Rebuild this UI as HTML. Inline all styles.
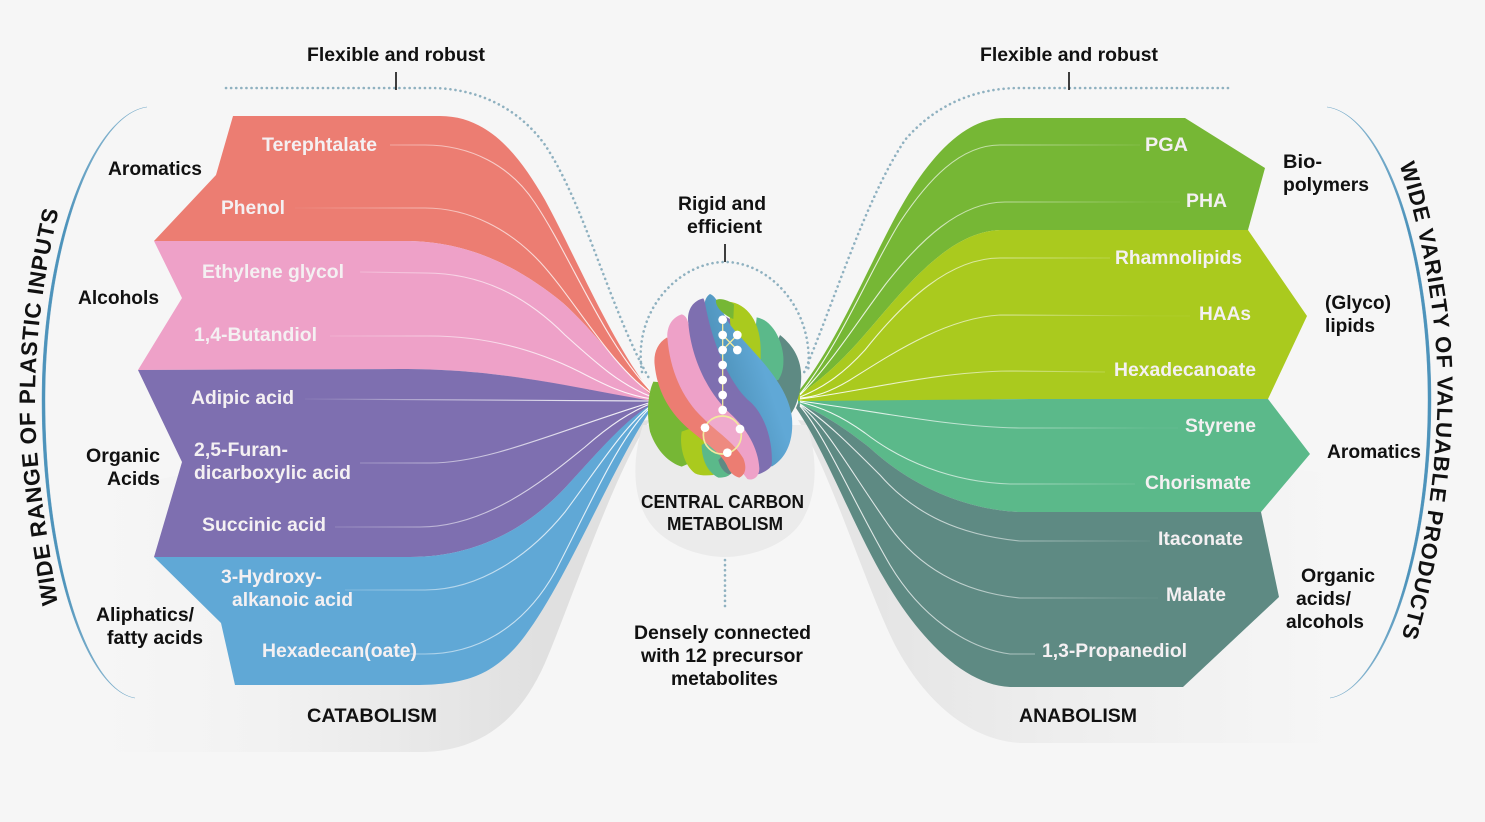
<!DOCTYPE html>
<html><head><meta charset="utf-8"><style>
html,body{margin:0;padding:0;background:#f6f6f6}
svg{display:block}
text{font-family:"Liberation Sans",sans-serif;font-weight:bold;font-size:19.5px}
.k{fill:#111}.w{fill:#f4f0f2}
</style></head><body>
<svg width="1485" height="822" viewBox="0 0 1485 822" xmlns="http://www.w3.org/2000/svg">
<defs>
<linearGradient id="sl" gradientUnits="userSpaceOnUse" x1="90" y1="0" x2="540" y2="0"><stop offset="0" stop-color="#f6f6f6"/><stop offset=".4" stop-color="#f2f2f2"/><stop offset="1" stop-color="#e0e0e0"/></linearGradient>
<linearGradient id="sr" gradientUnits="userSpaceOnUse" x1="880" y1="0" x2="1340" y2="0"><stop offset="0" stop-color="#e5e5e5"/><stop offset=".4" stop-color="#eeeeee"/><stop offset="1" stop-color="#f6f6f6"/></linearGradient>
<linearGradient id="ll" gradientUnits="userSpaceOnUse" x1="300" y1="0" x2="650" y2="0"><stop offset="0" stop-color="#fff" stop-opacity=".05"/><stop offset=".4" stop-color="#fff" stop-opacity=".5"/><stop offset="1" stop-color="#fff" stop-opacity=".95"/></linearGradient>
<linearGradient id="lr" gradientUnits="userSpaceOnUse" x1="1150" y1="0" x2="800" y2="0"><stop offset="0" stop-color="#fff" stop-opacity=".05"/><stop offset=".4" stop-color="#fff" stop-opacity=".5"/><stop offset="1" stop-color="#fff" stop-opacity=".95"/></linearGradient>
<linearGradient id="ar" gradientUnits="userSpaceOnUse" x1="0" y1="107" x2="0" y2="699"><stop offset="0" stop-color="#4d93bb" stop-opacity=".6"/><stop offset=".2" stop-color="#4d93bb"/><stop offset=".8" stop-color="#4d93bb"/><stop offset="1" stop-color="#4d93bb" stop-opacity=".6"/></linearGradient>
<linearGradient id="bb" gradientUnits="userSpaceOnUse" x1="190" y1="110" x2="310" y2="70"><stop offset="0" stop-color="#4f93bb"/><stop offset="1" stop-color="#60a8d6"/></linearGradient>
<path id="pl" d="M58,606 C48,540 35,470 35,400 C35,340 44,270 60,205"/>
<path id="pr" d="M1397,157 C1420,225 1437,310 1437.5,385 C1438,470 1422,570 1398,650"/>
</defs>
<rect width="1485" height="822" fill="#f6f6f6"/>

<!-- shadows -->
<path d="M650,420 C615,470 570,605 545,663 C520,720 480,752 420,752 L100,752 L60,500 L300,450Z" fill="url(#sl)"/>
<path d="M798,420 C830,470 865,585 895,645 C925,702 970,740 1020,743 L1400,743 L1400,480 L1100,450Z" fill="url(#sr)"/>
<path d="M643,425 C633,455 632,490 645,515 C660,545 700,557 725,557 C750,557 792,545 805,515 C818,490 817,455 807,425Z" fill="#ebebeb"/>

<!-- dotted -->
<g fill="none" stroke="#8fb1c0" stroke-width="2.6" stroke-linecap="round" stroke-dasharray="0.1 5">
<path d="M226,88 L430,88 C480,88 520,110 545,145 C585,205 610,310 650,380"/>
<path d="M1228,88 L1020,88 C975,88 935,105 905,140 C865,200 835,300 803,375"/>
<path d="M642,372 C632,310 680,262 725,262 C770,262 815,310 808,372"/>
<path d="M725,560 L725,606"/>
</g>

<!-- left bands -->
<path d="M233,116 L440,116 C490,116 520,157 545,200 C575,255 610,340 652,394 L652,398 C620,368 595,332 563,303 C520,268 470,241 405,241 L154,241 L216,175Z" fill="#ec7d72"/>
<path d="M154,241 L405,241 C470,241 520,268 563,303 C595,332 620,368 652,396 L652,402 C560,385 500,369 400,369 L138,370 L182,298Z" fill="#eea1c8"/>
<path d="M138,370 L400,369 C500,369 560,385 652,401 L652,405 C625,420 600,450 565,488 C530,525 480,557 410,557 L154,557 L182,462Z" fill="#7e6fb0"/>
<path d="M154,557 L410,557 C480,557 530,525 565,488 C600,450 625,420 652,404 L652,408 C610,470 560,598 515,648 C490,675 465,685 415,685 L235,685 L221,623Z" fill="#60a8d6"/>

<!-- right bands -->
<path d="M1005,118 L1185,118 L1265,168 L1248,230 L1000,230 C945,232 900,295 860,340 C835,368 820,380 798,396 L798,392 C840,340 875,250 905,200 C932,155 965,118 1005,118Z" fill="#76b735"/>
<path d="M1000,230 L1248,230 L1307,316 L1268,399 L1030,399 L798,402 L798,396 C820,380 835,368 860,340 C900,295 945,232 1000,230Z" fill="#aaca1e"/>
<path d="M798,401 L1030,399 L1268,399 L1310,454 L1261,512 L1020,512 C965,510 910,485 870,448 C845,428 820,412 798,403Z" fill="#5bb98a"/>
<path d="M798,403 C820,412 845,428 870,448 C910,485 965,510 1020,512 L1261,512 L1279,597 L1183,687 L1010,687 C965,685 920,640 885,580 C855,530 825,450 796,408Z" fill="#5e8a83"/>

<!-- thin lines left -->
<g fill="none" stroke="url(#ll)" stroke-width="1.1">
<path d="M390,145 L425,145 C470,145 510,165 535,203 C570,255 605,345 652,392"/>
<path d="M295,208 L425,208 C470,208 510,230 540,262 C575,300 610,365 652,394"/>
<path d="M360,272 L425,273 C480,273 525,295 565,335 C595,362 620,385 652,397"/>
<path d="M330,336 L430,336 C490,336 540,352 580,372 C605,385 625,395 652,399"/>
<path d="M305,399 L652,401"/>
<path d="M360,463 L430,463 C490,463 560,430 652,402"/>
<path d="M335,527 L420,527 C490,527 550,475 585,447 C610,425 630,412 652,403"/>
<path d="M345,590 L425,590 C480,590 530,555 565,512 C600,465 625,425 652,405"/>
<path d="M395,654 L425,654 C480,654 525,625 555,572 C590,505 620,435 652,406"/>
</g>
<!-- thin lines right -->
<g fill="none" stroke="url(#lr)" stroke-width="1.1">
<path d="M1140,145 L1000,145 C960,145 928,180 900,222 C870,270 840,345 800,394"/>
<path d="M1180,202 L1005,202 C960,202 920,240 885,285 C855,325 830,365 800,395"/>
<path d="M1110,258 L1000,258 C950,258 905,300 865,350 C845,372 825,387 800,397"/>
<path d="M1190,316 L1000,315 C945,318 890,355 850,380 C830,392 815,397 800,398"/>
<path d="M1105,372 L1010,371 C930,372 860,392 800,399"/>
<path d="M1178,428 L1020,428 C950,427 880,412 800,401"/>
<path d="M1135,484 L1010,484 C950,482 900,460 865,433 C840,415 820,407 800,402"/>
<path d="M1150,541 L1020,541 C960,535 915,515 880,475 C850,445 825,420 800,404"/>
<path d="M1158,598 L1020,598 C960,592 915,565 885,520 C850,470 825,425 800,405"/>
<path d="M1035,654 L1010,654 C965,648 920,615 890,565 C855,505 825,435 800,406"/>
</g>

<g stroke="#111" stroke-width="1.6"><path d="M396,72V90M1069,72V90M725,244V262"/></g>

<!-- arcs -->
<path d="M147,107 C90,115 42,250 42,400 C42,560 85,690 135,698 C87,690 45,560 45,400 C45,250 92,115 147,107Z" fill="url(#ar)" stroke="url(#ar)" stroke-width=".4"/>
<path d="M1327,107 C1385,115 1431,250 1431,400 C1431,560 1382,690 1330,698 C1380,690 1428,560 1428,400 C1428,250 1383,115 1327,107Z" fill="url(#ar)" stroke="url(#ar)" stroke-width=".4"/>

<!-- ball drawn in 3x crop coordinates -->
<g transform="translate(640,285) scale(.33333)">
<path d="M120,230 L250,90 L380,170 L440,340 L400,520 L280,560 L150,510 L70,350Z" fill="#7e6fb0"/>
<path d="M420,150 C470,190 490,240 482,300 C478,340 462,380 445,395 L340,340Z" fill="#5e8a83"/>
<path d="M350,97 C395,105 425,160 430,215 C432,250 425,270 415,285 L330,300Z" fill="#5bb98a"/>
<path d="M265,50 C320,55 365,110 362,205 L362,260 L280,220Z" fill="#aaca1e"/>
<path d="M40,290 C22,330 20,390 30,440 C50,500 90,535 125,545 L230,500 L150,300Z" fill="#76b735"/>
<path d="M125,440 C118,480 130,540 165,565 C180,572 200,572 220,570 L260,520 L180,420Z" fill="#aaca1e"/>
<path d="M185,480 C185,520 200,560 235,578 C250,578 262,575 268,570 L300,540 L230,450Z" fill="#5bb98a"/>
<path d="M235,525 C240,550 258,568 270,568 L295,550 L260,500Z" fill="#5e8a83"/>
<path d="M210,27 C190,40 190,70 200,100 L250,400 L395,545 C430,525 462,480 456,400 C445,290 330,195 275,125 C250,95 235,35 210,27Z" fill="url(#bb)"/>
<path d="M228,45 C240,38 265,45 282,58 L280,102 C250,90 225,65 228,45Z" fill="#76b735"/>
<path d="M190,40 C155,48 140,80 145,115 L130,200 L170,300 L260,420 L340,570 L358,567 C375,560 392,550 395,540 C400,470 375,390 330,350 C280,310 225,200 200,80 C196,60 195,48 190,40Z" fill="#7e6fb0"/>
<path d="M125,88 C95,98 80,125 82,160 L60,200 L100,320 L220,450 L322,582 C340,588 358,575 358,550 C355,490 320,430 270,385 C210,330 155,230 145,115 C142,100 135,90 125,88Z" fill="#eea1c8"/>
<path d="M80,158 C52,175 40,205 44,240 C52,320 90,385 150,435 C190,470 240,500 260,540 C270,565 285,575 298,578 C315,570 322,550 310,520 C280,470 230,440 190,400 C130,345 90,260 82,158Z" fill="#ec7d72"/>
<circle cx="247" cy="450" r="57" fill="#fff" fill-opacity=".1" stroke="#f2ea9e" stroke-width="5"/>
<path d="M248,104V375M248,150L292,195M248,195L292,150" fill="none" stroke="#f2ea9e" stroke-width="4"/>
<g fill="#fff">
<circle cx="248" cy="104" r="13"/><circle cx="248" cy="150" r="13"/><circle cx="248" cy="195" r="13"/>
<circle cx="292" cy="150" r="13"/><circle cx="292" cy="195" r="13"/>
<circle cx="248" cy="240" r="13"/><circle cx="248" cy="285" r="13"/><circle cx="248" cy="330" r="13"/><circle cx="248" cy="375" r="13"/>
<circle cx="195" cy="428" r="13"/><circle cx="300" cy="432" r="13"/><circle cx="262" cy="503" r="13"/>
</g>
</g>

<!-- band labels -->
<g class="w">
<text class="w" x="262" y="151" textLength="115" lengthAdjust="spacingAndGlyphs">Terephtalate</text>
<text class="w" x="221" y="214" textLength="64" lengthAdjust="spacingAndGlyphs">Phenol</text>
<text class="w" x="202" y="278" textLength="142" lengthAdjust="spacingAndGlyphs">Ethylene glycol</text>
<text class="w" x="194" y="341" textLength="123" lengthAdjust="spacingAndGlyphs">1,4-Butandiol</text>
<text class="w" x="191" y="404" textLength="103" lengthAdjust="spacingAndGlyphs">Adipic acid</text>
<text class="w" x="194" y="456" textLength="94" lengthAdjust="spacingAndGlyphs">2,5-Furan-</text>
<text class="w" x="194" y="479" textLength="157" lengthAdjust="spacingAndGlyphs">dicarboxylic acid</text>
<text class="w" x="202" y="531" textLength="124" lengthAdjust="spacingAndGlyphs">Succinic acid</text>
<text class="w" x="221" y="583" textLength="101" lengthAdjust="spacingAndGlyphs">3-Hydroxy-</text>
<text class="w" x="232" y="606" textLength="121" lengthAdjust="spacingAndGlyphs">alkanoic acid</text>
<text class="w" x="262" y="657" textLength="155" lengthAdjust="spacingAndGlyphs">Hexadecan(oate)</text>
<text class="w" x="1145" y="151" textLength="43" lengthAdjust="spacingAndGlyphs">PGA</text>
<text class="w" x="1186" y="207" textLength="41" lengthAdjust="spacingAndGlyphs">PHA</text>
<text class="w" x="1115" y="264" textLength="127" lengthAdjust="spacingAndGlyphs">Rhamnolipids</text>
<text class="w" x="1199" y="320" textLength="52" lengthAdjust="spacingAndGlyphs">HAAs</text>
<text class="w" x="1114" y="376" textLength="142" lengthAdjust="spacingAndGlyphs">Hexadecanoate</text>
<text class="w" x="1185" y="432" textLength="71" lengthAdjust="spacingAndGlyphs">Styrene</text>
<text class="w" x="1145" y="489" textLength="106" lengthAdjust="spacingAndGlyphs">Chorismate</text>
<text class="w" x="1158" y="545" textLength="85" lengthAdjust="spacingAndGlyphs">Itaconate</text>
<text class="w" x="1166" y="601" textLength="60" lengthAdjust="spacingAndGlyphs">Malate</text>
<text class="w" x="1042" y="657" textLength="145" lengthAdjust="spacingAndGlyphs">1,3-Propanediol</text>
</g>

<!-- black labels -->
<g class="k">
<text class="k" x="307" y="61" textLength="178" lengthAdjust="spacingAndGlyphs">Flexible and robust</text>
<text class="k" x="980" y="61" textLength="178" lengthAdjust="spacingAndGlyphs">Flexible and robust</text>
<text class="k" x="108" y="175" textLength="94" lengthAdjust="spacingAndGlyphs">Aromatics</text>
<text class="k" x="78" y="304" textLength="81" lengthAdjust="spacingAndGlyphs">Alcohols</text>
<text class="k" x="86" y="462" textLength="74" lengthAdjust="spacingAndGlyphs">Organic</text>
<text class="k" x="107" y="485" textLength="53" lengthAdjust="spacingAndGlyphs">Acids</text>
<text class="k" x="96" y="621" textLength="98" lengthAdjust="spacingAndGlyphs">Aliphatics/</text>
<text class="k" x="107" y="644" textLength="96" lengthAdjust="spacingAndGlyphs">fatty acids</text>
<text class="k" x="307" y="722" textLength="130" lengthAdjust="spacingAndGlyphs">CATABOLISM</text>
<text class="k" x="1019" y="722" textLength="118" lengthAdjust="spacingAndGlyphs">ANABOLISM</text>
<text class="k" x="678" y="210" textLength="88" lengthAdjust="spacingAndGlyphs">Rigid and</text>
<text class="k" x="687" y="233" textLength="75" lengthAdjust="spacingAndGlyphs">efficient</text>
<text class="k" x="641" y="508" textLength="163" lengthAdjust="spacingAndGlyphs" style="font-size:18px">CENTRAL CARBON</text>
<text class="k" x="667" y="530" textLength="116" lengthAdjust="spacingAndGlyphs" style="font-size:18px">METABOLISM</text>
<text class="k" x="634" y="639" textLength="177" lengthAdjust="spacingAndGlyphs">Densely connected</text>
<text class="k" x="641" y="662" textLength="162" lengthAdjust="spacingAndGlyphs">with 12 precursor</text>
<text class="k" x="671" y="685" textLength="107" lengthAdjust="spacingAndGlyphs">metabolites</text>
<text class="k" x="1283" y="168" textLength="39" lengthAdjust="spacingAndGlyphs">Bio-</text>
<text class="k" x="1283" y="191" textLength="86" lengthAdjust="spacingAndGlyphs">polymers</text>
<text class="k" x="1325" y="309" textLength="66" lengthAdjust="spacingAndGlyphs">(Glyco)</text>
<text class="k" x="1325" y="332" textLength="50" lengthAdjust="spacingAndGlyphs">lipids</text>
<text class="k" x="1327" y="458" textLength="94" lengthAdjust="spacingAndGlyphs">Aromatics</text>
<text class="k" x="1301" y="582" textLength="74" lengthAdjust="spacingAndGlyphs">Organic</text>
<text class="k" x="1296" y="605" textLength="55" lengthAdjust="spacingAndGlyphs">acids/</text>
<text class="k" x="1286" y="628" textLength="78" lengthAdjust="spacingAndGlyphs">alcohols</text>
</g>

<text class="k" style="font-size:22.5px;letter-spacing:.8px"><textPath href="#pl" startOffset="2">WIDE RANGE OF PLASTIC INPUTS</textPath></text>
<text class="k" style="font-size:22px;letter-spacing:1px"><textPath href="#pr" startOffset="8">WIDE VARIETY OF VALUABLE PRODUCTS</textPath></text>
</svg>
</body></html>
